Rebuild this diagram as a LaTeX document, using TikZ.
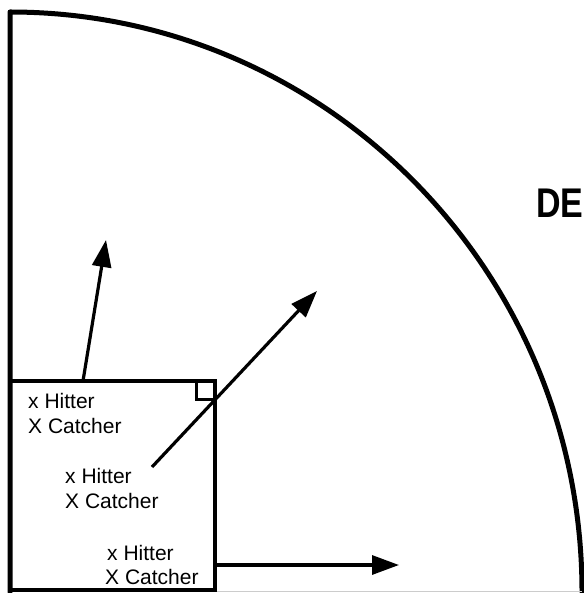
\documentclass[tikz,border=0pt]{standalone}
\usepackage{fontspec}
\setmainfont{Liberation Sans}
\usetikzlibrary{arrows.meta,positioning}
\tikzset{
  field/.style={line width=5pt,line cap=round,line join=round},
  zonebox/.style={draw,line width=4pt,minimum width=205pt,minimum height=209pt,inner sep=0pt},
  cornerbox/.style={draw,line width=3pt,minimum size=19pt,inner sep=0pt},
  arr/.style={-{Triangle[length=27pt,width=19pt]},line width=3.2pt},
  who/.style={font=\fontsize{21}{24}\selectfont,anchor=base west,inner sep=0pt},
  lbl/.style={font=\fontsize{34}{40}\selectfont\bfseries,anchor=base west,inner sep=0pt},
}
\begin{document}
\begin{tikzpicture}[x=1pt,y=-1pt]
\useasboundingbox (0,0) rectangle (583,593);
\coordinate (home) at (10,592);
\coordinate (top) at (10,12);
% field outline
\draw[field] (home) -- (top) arc[start angle=-90,end angle=0,x radius=572,y radius=580];
\draw[gray!40,line width=1pt] (215,591) -- (582,591);
\node[lbl] (deep) at (536,218) {\scalebox{1}[1.22]{DE}};
% hitting zone
\node[zonebox] (zone) at (112.5,485.5) {};
\node[cornerbox,anchor=north east] (corner) at (zone.north east) {};
\node[who] (h1) at (28,408) {x Hitter};
\node[who] (c1) at (28,433) {X Catcher};
\node[who] (h2) at (65,483) {x Hitter};
\node[who] (c2) at (65,508) {X Catcher};
\node[who] (h3) at (107,560) {x Hitter};
\node[who] (c3) at (105,584) {X Catcher};
% throws
\coordinate (s1) at (83,381);
\coordinate (t1) at (106,240);
\coordinate (s2) at (152,467);
\coordinate (t2) at (317,291);
\coordinate (s3) at (215,565);
\coordinate (t3) at (399,565);
\draw[arr] (s1) -- (t1);
\draw[arr] (s2) -- (t2);
\draw[arr] (s3) -- (t3);
\end{tikzpicture}
\end{document}
